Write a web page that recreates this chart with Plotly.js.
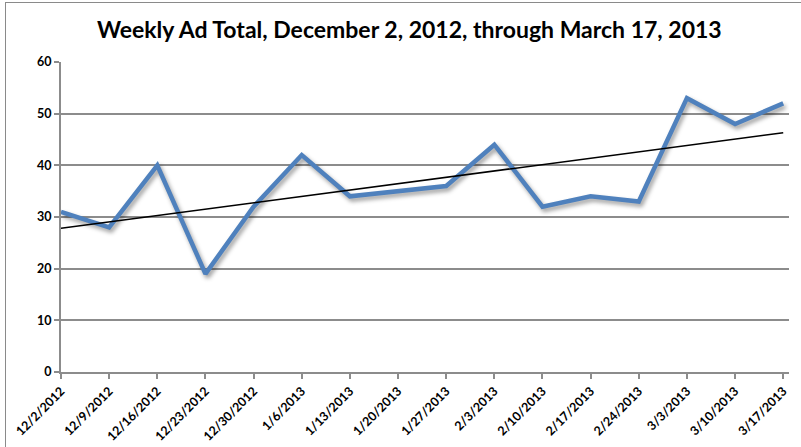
<!DOCTYPE html>
<html>
<head>
<meta charset="utf-8">
<script src="https://cdn.plot.ly/plotly-3.0.1.min.js"></script>
<style>
  html, body { margin:0; padding:0; background:#fff; }
  #wrap { position:relative; width:801px; height:447px; overflow:hidden; }
  #frame { position:absolute; left:5px; top:2px; width:900px; height:900px; border:1.5px solid #8a8a8a; }
  #chart { position:absolute; left:0; top:0; width:801px; height:447px; }
  #chart .scatterlayer .trace:first-child path.js-line {
    filter: drop-shadow(2px 3px 2px rgba(0,0,0,0.38));
  }
</style>
</head>
<body>
<div id="wrap">
  <div id="frame"></div>
  <div id="chart"></div>
</div>
<script>
const weeks = ["12/2/2012","12/9/2012","12/16/2012","12/23/2012","12/30/2012","1/6/2013","1/13/2013","1/20/2013","1/27/2013","2/3/2013","2/10/2013","2/17/2013","2/24/2013","3/3/2013","3/10/2013","3/17/2013"];
const adTotals = [31, 28, 40, 19, 32, 42, 34, 35, 36, 44, 32, 34, 33, 53, 48, 52];
const yTicks = [0, 10, 20, 30, 40, 50, 60];
const titleText = "Weekly Ad Total, December 2, 2012, through March 17, 2013";

// linear trendline (least squares) on week index
const n = adTotals.length;
const idx = adTotals.map((_, i) => i);
const mx = idx.reduce((a, b) => a + b, 0) / n;
const my = adTotals.reduce((a, b) => a + b, 0) / n;
let sxy = 0, sxx = 0;
idx.forEach((x, i) => { sxy += (x - mx) * (adTotals[i] - my); sxx += (x - mx) * (x - mx); });
const slope = sxy / sxx, intercept = my - slope * mx;
const trend = idx.map(x => intercept + slope * x);

const font = "Lato, 'Open Sans', sans-serif";

Plotly.newPlot("chart", [
  { x: weeks, y: adTotals, type: "scatter", mode: "lines",
    line: { color: "#4F81BD", width: 4.5 }, hoverinfo: "x+y" },
  { x: weeks, y: trend, type: "scatter", mode: "lines",
    line: { color: "#000000", width: 1.5 }, hoverinfo: "skip" }
], {
  width: 801, height: 447,
  margin: { l: 61, r: 12, t: 62, b: 75 },
  paper_bgcolor: "rgba(0,0,0,0)", plot_bgcolor: "rgba(0,0,0,0)",
  showlegend: false,
  title: { text: titleText, x: 0.511, xanchor: "center", y: 0.932, yanchor: "middle",
           font: { family: font, size: 23, weight: 700, color: "#000" } },
  xaxis: {
    type: "category", range: [0, 15.12], tickangle: -45,
    tickfont: { family: font, size: 12.5, weight: 700, color: "#000" },
    showline: true, linecolor: "#8c8c8c", linewidth: 2,
    ticks: "outside", ticklen: 5, tickcolor: "#8c8c8c", tickwidth: 2,
    showgrid: false, zeroline: false, fixedrange: true
  },
  yaxis: {
    range: [0, 60], tickvals: yTicks, ticktext: yTicks.map(String),
    tickfont: { family: font, size: 12.5, weight: 700, color: "#000" },
    showline: true, linecolor: "#8c8c8c", linewidth: 2,
    ticks: "outside", ticklen: 5, tickcolor: "#8c8c8c", tickwidth: 2,
    showgrid: true, gridcolor: "#8c8c8c", gridwidth: 2,
    zeroline: false, fixedrange: true
  }
}, { displayModeBar: false, staticPlot: true });
</script>
</body>
</html>
